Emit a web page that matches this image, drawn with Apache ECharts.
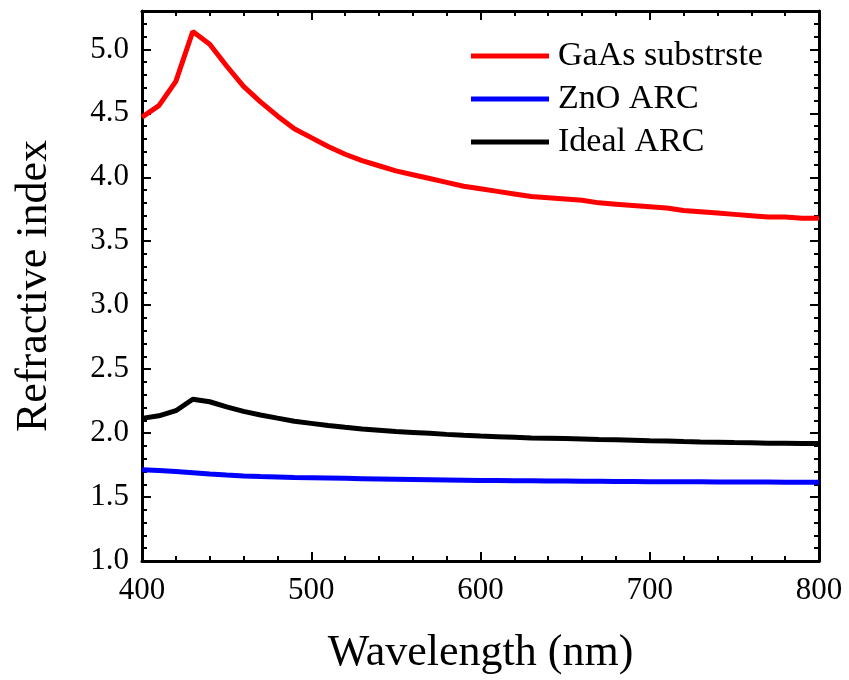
<!DOCTYPE html>
<html>
<head>
<meta charset="utf-8">
<script src="https://cdn.jsdelivr.net/npm/echarts@6/dist/echarts.min.js"></script>
<style>html,body{margin:0;padding:0;background:#fff}#c{width:849px;height:680px}</style>
</head>
<body>
<div id="c"></div>
<script>
const wavelengths = [400,410,420,430,440,450,460,470,480,490,500,510,520,530,540,550,560,570,580,590,600,610,620,630,640,650,660,670,680,690,700,710,720,730,740,750,760,770,780,790,800];
const gaasSubstrate = [4.47,4.56,4.75,5.14,5.04,4.87,4.71,4.59,4.48,4.38,4.31,4.24,4.18,4.13,4.09,4.05,4.02,3.99,3.96,3.93,3.91,3.89,3.87,3.85,3.84,3.83,3.82,3.80,3.79,3.78,3.77,3.76,3.74,3.73,3.72,3.71,3.70,3.69,3.69,3.68,3.68];
const znoArc = [1.714,1.708,1.700,1.690,1.680,1.672,1.665,1.660,1.656,1.652,1.650,1.648,1.646,1.644,1.642,1.640,1.638,1.636,1.634,1.632,1.630,1.629,1.628,1.627,1.626,1.625,1.624,1.623,1.622,1.621,1.620,1.620,1.619,1.619,1.618,1.618,1.617,1.617,1.616,1.616,1.615];
const idealArc = [2.115,2.135,2.175,2.265,2.245,2.205,2.17,2.142,2.117,2.093,2.076,2.059,2.045,2.032,2.022,2.012,2.005,1.998,1.99,1.983,1.977,1.972,1.967,1.962,1.96,1.957,1.954,1.949,1.947,1.944,1.941,1.939,1.934,1.931,1.929,1.926,1.924,1.921,1.921,1.918,1.918];
const seriesNames = ['GaAs substrste','ZnO ARC','Ideal ARC'];
const seriesColors = ['#ff0000','#0000ff','#000000'];
const xTicks = {min:400, max:800, interval:100};
const yTicks = {min:1.0, max:5.3, interval:0.5, minorInterval:0.1};

const font = "'Liberation Serif', 'Times New Roman', 'DejaVu Serif', serif";
const chart = echarts.init(document.getElementById('c'));
const pair = (arr) => wavelengths.map((w,i)=>[w,arr[i]]);
const axisLine = {show:true, lineStyle:{color:'#000', width:3}};
const baseY = (pos, major, labels) => ({
  type:'value', position:pos, min:yTicks.min, max:yTicks.max,
  interval: major ? yTicks.interval : yTicks.minorInterval,
  axisLine: major ? axisLine : {show:false},
  axisTick:{show:true, inside:true, length: major?9:5, lineStyle:{color:'#000', width:2}},
  axisLabel:{show:labels, showMaxLabel:false, color:'#000', fontFamily:font, fontSize:31, margin:13,
    formatter:(v)=>v.toFixed(1)},
  splitLine:{show:false},
  name: (labels ? 'Refractive index' : ''), nameLocation:'middle', nameGap:86,
  nameTextStyle:{color:'#000', fontFamily:font, fontSize:44}
});
const baseX = (pos, labels) => ({
  type:'value', position:pos, min:xTicks.min, max:xTicks.max, interval:xTicks.interval,
  axisLine: axisLine,
  axisTick:{show:true, inside:true, length:9, lineStyle:{color:'#000', width:2}},
  minorTick:{show:true, splitNumber:5, length:5, lineStyle:{color:'#000', width:2}},
  axisLabel:{show:labels, color:'#000', fontFamily:font, fontSize:31, margin:14},
  splitLine:{show:false},
  name: (labels ? 'Wavelength (nm)' : ''), nameLocation:'middle', nameGap:70,
  nameTextStyle:{color:'#000', fontFamily:font, fontSize:44}
});
chart.setOption({
  animation:false,
  backgroundColor:'#fff',
  grid:{left:142, right:30, top:11, bottom:115, containLabel:false},
  legend:{
    orient:'vertical', left:471, top:39, padding:0, itemWidth:78, itemHeight:5, itemGap:9,
    icon:'rect', data:seriesNames,
    textStyle:{color:'#000', fontFamily:font, fontSize:34, lineHeight:34, padding:[0,0,0,4]}
  },
  xAxis:[baseX('bottom', true), baseX('top', false)],
  yAxis:[baseY('left', true, true), baseY('left', false, false), baseY('right', true, false), baseY('right', false, false)],
  series:[gaasSubstrate, znoArc, idealArc].map((d,i)=>({
    name:seriesNames[i], type:'line', xAxisIndex:0, yAxisIndex:0, data:pair(d),
    showSymbol:false, symbol:'none', smooth:false,
    lineStyle:{color:seriesColors[i], width:5}, itemStyle:{color:seriesColors[i]}
  }))
});
</script>
</body>
</html>
